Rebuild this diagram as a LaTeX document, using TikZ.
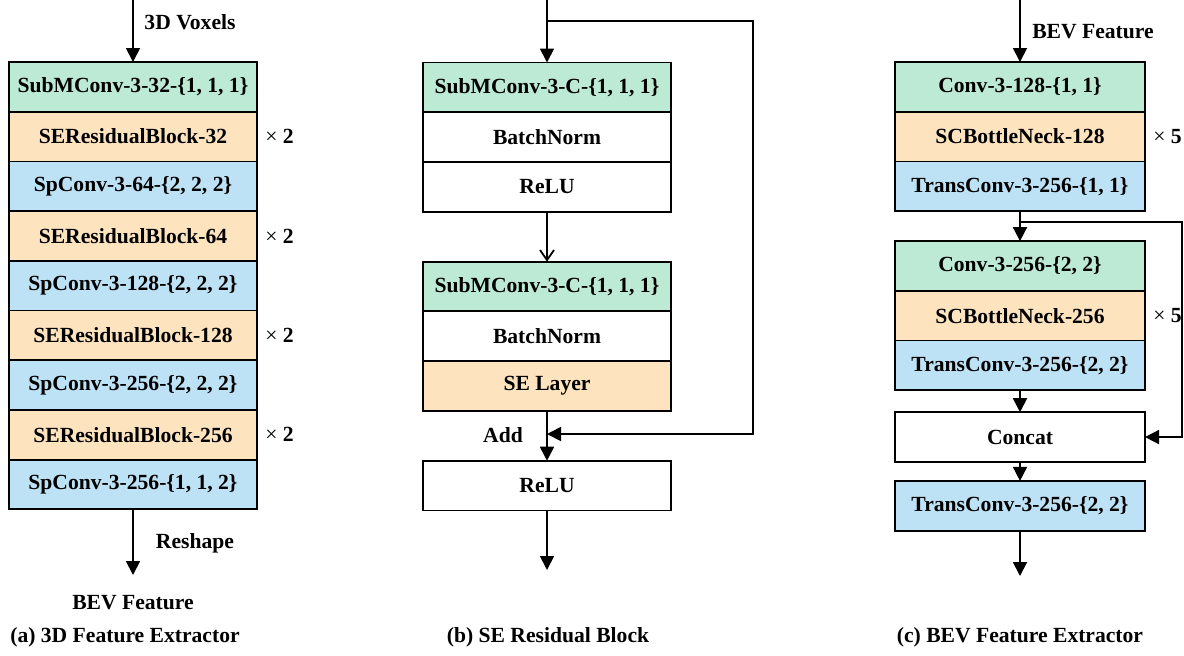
\documentclass[tikz,border=0pt]{standalone}
\usepackage{fontspec}
\setmainfont{Liberation Serif}
\usetikzlibrary{positioning, arrows.meta}
\definecolor{ConvGreen}{RGB}{188, 234, 212}
\definecolor{BlockOrange}{RGB}{253, 227, 190}
\definecolor{SpBlue}{RGB}{190, 226, 245}

\begin{document}
\begin{tikzpicture}[
        x=0.5pt, y=-0.5pt,
        layer/.style={draw=black, line width=0.9pt, rectangle, minimum width=124pt, minimum height=24.85pt, inner sep=0pt, outer sep=0pt, align=center, font=\fontsize{10.8}{13}\selectfont\bfseries},
        conv/.style={layer, fill=ConvGreen},
        resblock/.style={layer, fill=BlockOrange},
        spconv/.style={layer, fill=SpBlue},
        plain/.style={layer, fill=white},
        wide/.style={minimum width=125pt},
        tag/.style={inner sep=0pt, font=\fontsize{10.8}{13}\selectfont\bfseries},
        rep/.style={tag, right=4pt of #1},
        arrow/.style={-{Triangle[length=7pt, width=7pt]}, line width=0.9pt},
        openarrow/.style={-{Straight Barb[length=5pt, width=7pt]}, line width=0.9pt}
      ]
        \useasboundingbox (0,0) rectangle (1184,655);

        % (a) 3D feature extractor
        \node [conv, anchor=north] (a1) at (133,62) {SubMConv-3-32-\{1, 1, 1\}};
        \node [resblock, below=0pt of a1] (a2) {SEResidualBlock-32};
        \node [spconv, below=0pt of a2] (a3) {SpConv-3-64-\{2, 2, 2\}};
        \node [resblock, below=0pt of a3] (a4) {SEResidualBlock-64};
        \node [spconv, below=0pt of a4] (a5) {SpConv-3-128-\{2, 2, 2\}};
        \node [resblock, below=0pt of a5] (a6) {SEResidualBlock-128};
        \node [spconv, below=0pt of a6] (a7) {SpConv-3-256-\{2, 2, 2\}};
        \node [resblock, below=0pt of a7] (a8) {SEResidualBlock-256};
        \node [spconv, below=0pt of a8] (a9) {SpConv-3-256-\{1, 1, 2\}};
        \node [rep=a2] (a2rep) {{\mdseries ×} 2};
        \node [rep=a4] (a4rep) {{\mdseries ×} 2};
        \node [rep=a6] (a6rep) {{\mdseries ×} 2};
        \node [rep=a8] (a8rep) {{\mdseries ×} 2};

        \coordinate (ain) at (133,0);
        \coordinate (aout) at (133,575);
        \draw [arrow] (ain) -- (a1);
        \draw [arrow] (a9) -- (aout);
        \node [tag] (voxels) at (190,22) {3D Voxels};
        \node [tag] (reshape) at (195,543) {Reshape};
        \node [tag] (abev) at (133,603) {BEV Feature};
        \node [tag] (acap) at (125,637) {(a) 3D Feature Extractor};

        % (b) SE residual block
        \node [conv, anchor=north] (b1) at (547,62.5) {SubMConv-3-C-\{1, 1, 1\}};
        \node [plain, below=0pt of b1] (b2) {BatchNorm};
        \node [plain, below=0pt of b2] (b3) {ReLU};
        \node [conv, below=25pt of b3] (b4) {SubMConv-3-C-\{1, 1, 1\}};
        \node [plain, below=0pt of b4] (b5) {BatchNorm};
        \node [resblock, below=0pt of b5] (b6) {SE Layer};
        \node [plain, below=25pt of b6] (b7) {ReLU};

        \coordinate (bin) at (547,0);
        \coordinate (bsplit) at (547,21);
        \coordinate (bcorner) at (753,21);
        \coordinate (badd) at (547,434);
        \coordinate (bout) at (547,570);
        \draw [arrow] (bin) -- (b1);
        \draw [openarrow] (b3) -- (b4);
        \draw [arrow] (b6) -- (b7);
        \draw [arrow] (bsplit) -- (bcorner) |- (badd);
        \draw [arrow] (b7) -- (bout);
        \node [tag] (add) at (503,435) {Add};
        \node [tag] (bcap) at (548,637) {(b) SE Residual Block};

        % (c) BEV feature extractor
        \node [conv, wide, anchor=north] (c1) at (1020,62) {Conv-3-128-\{1, 1\}};
        \node [resblock, wide, below=0pt of c1] (c2) {SCBottleNeck-128};
        \node [spconv, wide, below=0pt of c2] (c3) {TransConv-3-256-\{1, 1\}};
        \node [conv, wide, below=15pt of c3] (c4) {Conv-3-256-\{2, 2\}};
        \node [resblock, wide, below=0pt of c4] (c5) {SCBottleNeck-256};
        \node [spconv, wide, below=0pt of c5] (c6) {TransConv-3-256-\{2, 2\}};
        \node [plain, wide, below=11pt of c6] (c7) {Concat};
        \node [spconv, wide, below=9.5pt of c7] (c8) {TransConv-3-256-\{2, 2\}};
        \node [rep=c2] (c2rep) {{\mdseries ×} 5};
        \node [rep=c5] (c5rep) {{\mdseries ×} 5};

        \coordinate (cin) at (1020,0);
        \coordinate (csplit) at (1020,222);
        \coordinate (ccorner) at (1182,222);
        \coordinate (cout) at (1020,576);
        \draw [arrow] (cin) -- (c1);
        \draw [arrow] (c3) -- (c4);
        \draw [arrow] (csplit) -- (ccorner) |- (c7.east);
        \draw [arrow] (c6) -- (c7);
        \draw [arrow] (c7) -- (c8);
        \draw [arrow] (c8) -- (cout);
        \node [tag] (cbev) at (1093,32) {BEV Feature};
        \node [tag] (ccap) at (1020,637) {(c) BEV Feature Extractor};
      \end{tikzpicture}
\end{document}
